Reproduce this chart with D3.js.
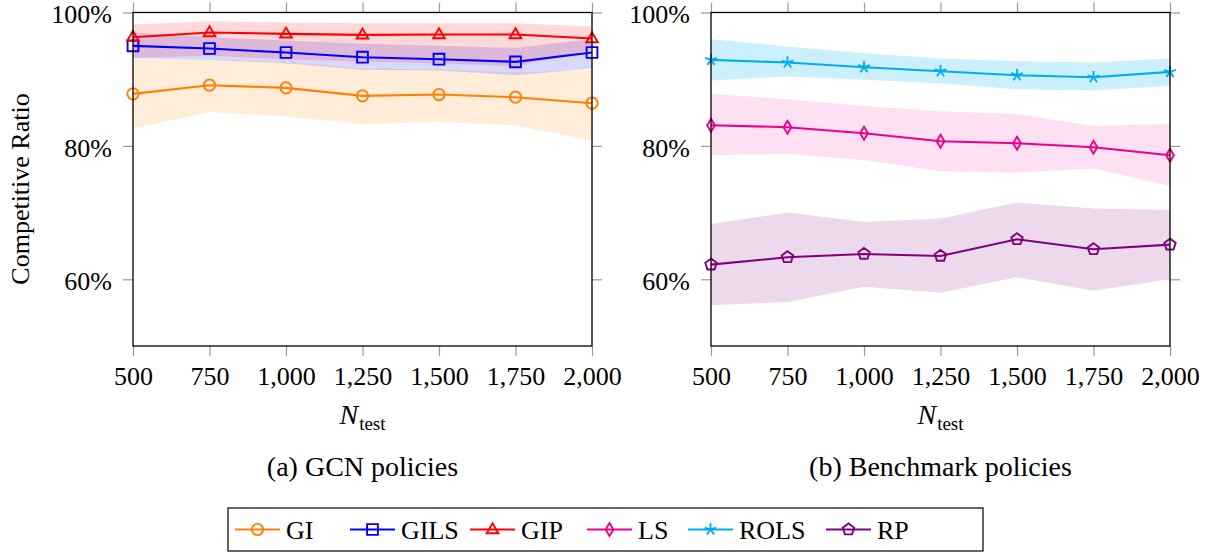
<!DOCTYPE html>
<html>
<head>
<meta charset="utf-8">
<script src="https://cdn.jsdelivr.net/npm/d3@7"></script>
<style>
  body { margin: 0; background: #fff; }
</style>
</head>
<body>
<div id="root"></div>
<script>
// N_test values on the x axis
const nTest = [500, 750, 1000, 1250, 1500, 1750, 2000];
const yTicks = [60, 80, 100];

// (a) GCN policies: mean, lower, upper (in %)
const giMean   = [87.8, 89.1, 88.7, 87.5, 87.7, 87.3, 86.4];
const giLow    = [82.6, 85.1, 84.4, 83.3, 83.6, 83.1, 80.8];
const giHigh   = [92.9, 93.0, 92.6, 91.6, 91.5, 91.0, 91.4];

const gilsMean = [95.0, 94.6, 94.0, 93.3, 93.0, 92.6, 94.0];
const gilsLow  = [93.1, 92.9, 92.4, 91.4, 91.3, 90.6, 91.6];
const gilsHigh = [97.0, 96.3, 95.8, 95.3, 95.0, 94.7, 96.0];

const gipMean  = [96.3, 97.0, 96.8, 96.65, 96.7, 96.7, 96.1];
const gipLow   = [93.2, 93.5, 93.0, 92.6, 92.4, 91.9, 94.4];
const gipHigh  = [98.2, 98.7, 98.5, 98.4, 98.4, 98.4, 97.9];

// (b) Benchmark policies
const lsMean   = [83.1, 82.8, 81.9, 80.7, 80.4, 79.8, 78.6];
const lsLow    = [78.6, 78.8, 77.9, 76.2, 76.0, 76.6, 74.0];
const lsHigh   = [87.8, 87.0, 86.0, 85.2, 84.8, 83.0, 83.3];

const rolsMean = [92.9, 92.5, 91.8, 91.2, 90.6, 90.3, 91.1];
const rolsLow  = [89.8, 90.4, 89.9, 89.4, 88.5, 88.3, 89.0];
const rolsHigh = [96.0, 94.9, 93.9, 93.1, 92.7, 92.5, 93.1];

const rpMean   = [62.2, 63.3, 63.8, 63.5, 66.0, 64.5, 65.2];
const rpLow    = [56.1, 56.6, 58.9, 58.0, 60.3, 58.3, 60.0];
const rpHigh   = [68.3, 70.0, 68.6, 69.1, 71.5, 70.6, 70.4];

const series = {
  GI:   { mean: giMean,   low: giLow,   high: giHigh,   color: '#ff8000', mark: 'circle',   bandOp: 0.15 },
  GILS: { mean: gilsMean, low: gilsLow, high: gilsHigh, color: '#0000ff', mark: 'square',   bandOp: 0.15 },
  GIP:  { mean: gipMean,  low: gipLow,  high: gipHigh,  color: '#ff0000', mark: 'triangle', bandOp: 0.15 },
  LS:   { mean: lsMean,   low: lsLow,   high: lsHigh,   color: '#ec008c', mark: 'diamond',  bandOp: 0.12 },
  ROLS: { mean: rolsMean, low: rolsLow, high: rolsHigh, color: '#00aeef', mark: 'star',     bandOp: 0.2 },
  RP:   { mean: rpMean,   low: rpLow,   high: rpHigh,   color: '#800080', mark: 'pentagon', bandOp: 0.15 },
};

const panels = [
  { left: 133, right: 592, names: ['GI', 'GILS', 'GIP'], caption: '(a) GCN policies', yLabel: true },
  { left: 711, right: 1170, names: ['LS', 'ROLS', 'RP'], caption: '(b) Benchmark policies', yLabel: false },
];
const plotTop = 12.5, plotBottom = 346;
const W = 1215, H = 552;
const FONT = '"Liberation Serif", "Times New Roman", serif';
const FS = 26;

const svg = d3.select('#root').append('svg')
  .attr('width', W).attr('height', H)
  .attr('xmlns', 'http://www.w3.org/2000/svg');

// marker paths, roughly the pgfplots shapes
function markPath(kind) {
  if (kind === 'circle') return d3.symbol(d3.symbolCircle, 100)();
  if (kind === 'square') return 'M-5.4,-5.4H5.4V5.4H-5.4Z';
  if (kind === 'triangle') return 'M0,-6.2L5.8,3.7H-5.8Z';
  if (kind === 'diamond') return 'M0,-6.4L3.9,0L0,6.4L-3.9,0Z';
  if (kind === 'star') {
    let p = '';
    for (let k = 0; k < 5; k++) {
      const a = -Math.PI / 2 + k * 2 * Math.PI / 5;
      p += `M0,0L${(6.2 * Math.cos(a)).toFixed(2)},${(6.2 * Math.sin(a)).toFixed(2)}`;
    }
    return p;
  }
  if (kind === 'pentagon') {
    const pts = d3.range(5).map(k => {
      const a = -Math.PI / 2 + k * 2 * Math.PI / 5;
      return [6 * Math.cos(a), 6 * Math.sin(a)];
    });
    return 'M' + pts.map(p => p.map(v => v.toFixed(2)).join(',')).join('L') + 'Z';
  }
}

panels.forEach(pan => {
  const x = d3.scaleLinear().domain([500, 2000]).range([pan.left, pan.right]);
  const y = d3.scaleLinear().domain([50, 100]).range([plotBottom, plotTop]);
  const g = svg.append('g');

  // bands
  pan.names.forEach(name => {
    const s = series[name];
    const area = d3.area()
      .x((d, i) => x(nTest[i]))
      .y0((d, i) => y(s.low[i]))
      .y1((d, i) => y(s.high[i]));
    g.append('path')
      .datum(nTest)
      .attr('d', area)
      .attr('fill', s.color)
      .attr('fill-opacity', s.bandOp)
      .attr('stroke', 'none');
  });

  // ticks (outside, grey) on all four sides
  const tickCol = '#999';
  const axB = g.append('g').attr('transform', `translate(0,${plotBottom})`)
    .call(d3.axisBottom(x).tickValues(nTest).tickSize(10).tickSizeOuter(0).tickPadding(11).tickFormat(d3.format(',')));
  const axT = g.append('g').attr('transform', `translate(0,${plotTop})`)
    .call(d3.axisTop(x).tickValues(nTest).tickSize(10).tickSizeOuter(0).tickFormat(''));
  const axL = g.append('g').attr('transform', `translate(${pan.left},0)`)
    .call(d3.axisLeft(y).tickValues(yTicks).tickSize(10).tickSizeOuter(0).tickPadding(11).tickFormat(d => d + '%'));
  const axR = g.append('g').attr('transform', `translate(${pan.right},0)`)
    .call(d3.axisRight(y).tickValues(yTicks).tickSize(10).tickSizeOuter(0).tickFormat(''));
  [axB, axT, axL, axR].forEach(a => {
    a.select('.domain').remove();
    a.selectAll('.tick line').attr('stroke', tickCol).attr('stroke-width', 1.2);
    a.selectAll('.tick text').attr('font-size', FS).style('font-family', FONT).attr('fill', '#000');
  });
  axL.selectAll('.tick text').attr('dy', '0.4em');

  // lines and marks
  pan.names.forEach(name => {
    const s = series[name];
    const line = d3.line().x((d, i) => x(nTest[i])).y(d => y(d));
    g.append('path')
      .datum(s.mean)
      .attr('d', line)
      .attr('fill', 'none')
      .attr('stroke', s.color)
      .attr('stroke-width', 2.1);
    g.selectAll(null)
      .data(s.mean)
      .join('path')
      .attr('transform', (d, i) => `translate(${x(nTest[i])},${y(d)})`)
      .attr('d', markPath(s.mark))
      .attr('fill', 'none')
      .attr('stroke', s.color)
      .attr('stroke-width', 1.9);
  });

  // frame
  g.append('rect')
    .attr('x', pan.left).attr('y', plotTop)
    .attr('width', pan.right - pan.left).attr('height', plotBottom - plotTop)
    .attr('fill', 'none').attr('stroke', '#000').attr('stroke-width', 1.3);

  // x label N_test
  const cx = (pan.left + pan.right) / 2;
  const xl = g.append('text')
    .attr('x', cx).attr('y', 424)
    .attr('text-anchor', 'middle')
    .attr('font-size', 28)
    .style('font-family', FONT);
  xl.append('tspan').attr('font-style', 'italic').text('N');
  xl.append('tspan').attr('font-size', 19).attr('dy', 6).attr('dx', 1).text('test');

  // caption
  g.append('text')
    .attr('x', cx).attr('y', 476)
    .attr('text-anchor', 'middle')
    .attr('font-size', 28)
    .style('font-family', FONT)
    .text(pan.caption);

  if (pan.yLabel) {
    g.append('text')
      .attr('transform', 'translate(29,189) rotate(-90)')
      .attr('text-anchor', 'middle')
      .attr('font-size', FS)
      .style('font-family', FONT)
      .text('Competitive Ratio');
  }
});

// legend
const legendNames = ['GI', 'GILS', 'GIP', 'LS', 'ROLS', 'RP'];
const legX = [235, 350, 470, 587, 688, 826];
const leg = svg.append('g');
leg.append('rect')
  .attr('x', 228).attr('y', 508).attr('width', 755).attr('height', 43)
  .attr('fill', '#fff').attr('stroke', '#000').attr('stroke-width', 1.2);
legendNames.forEach((name, i) => {
  const s = series[name];
  const lx = legX[i], ly = 529.5;
  leg.append('line')
    .attr('x1', lx).attr('x2', lx + 45).attr('y1', ly).attr('y2', ly)
    .attr('stroke', s.color).attr('stroke-width', 2.1);
  leg.append('path')
    .attr('transform', `translate(${lx + 22.5},${ly})`)
    .attr('d', markPath(s.mark))
    .attr('fill', 'none').attr('stroke', s.color).attr('stroke-width', 1.9);
  leg.append('text')
    .attr('x', lx + 51).attr('y', ly + 9)
    .attr('font-size', FS)
    .style('font-family', FONT)
    .text(name);
});
</script>
</body>
</html>
